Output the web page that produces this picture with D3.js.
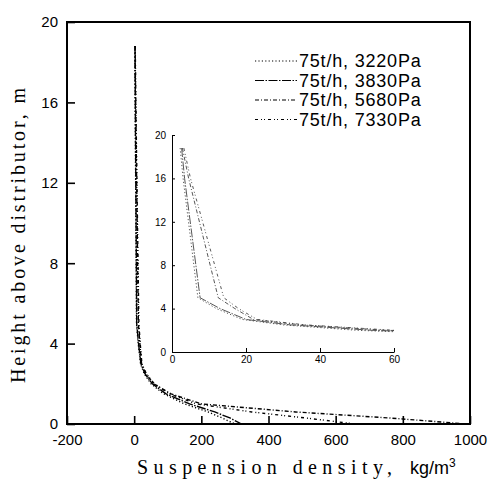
<!DOCTYPE html>
<html>
  <head>
    <meta charset="utf-8">
    <style>
      html, body {
        margin: 0px;
        padding: 0px;
        background: #fff;
      }
      svg {
        display: block;
      }
      .tick text {
        font-family: "Liberation Sans", Arial, sans-serif;
        fill: #000;
      }
    </style>
  </head>
  <body>
    <svg id="chart" width="488" height="479"></svg>
    <script src="https://cdnjs.cloudflare.com/ajax/libs/d3/7.8.5/d3.min.js" charset="utf-8"></script>
    <script>
      // heights above distributor (m) at which densities were read
      var heights = [18.8, 16, 5, 4, 3, 2.5, 2, 1.5, 1, 0.6, 0.3, 0];
      // suspension density (kg/m3) for each series at those heights
      var dens3220 = [2.2, 3.0, 7.0, 12, 19, 30, 50, 88, 150, 220, 262, 300];
      var dens3830 = [2.6, 3.4, 7.6, 13, 20, 32, 54, 95, 165, 240, 285, 320];
      var dens5680 = [2.8, 4.5, 12.5, 17, 22, 35, 58, 110, 200, 480, 760, 990];
      var dens7330 = [3.2, 5.0, 14.0, 18, 23, 36, 60, 105, 185, 350, 510, 660];
      var seriesNames = ['75t/h, 3220Pa', '75t/h, 3830Pa', '75t/h, 5680Pa', '75t/h, 7330Pa'];
      var dashes = ['1.2,2.2', '9,1.5,1.5,1.5', '4,2,1,2', '3,3,1,2,1,3'];

      var xTicks = [-200, 0, 200, 400, 600, 800, 1000];
      var yTicks = [0, 4, 8, 12, 16, 20];
      var insetXTicks = [0, 20, 40, 60];
      var insetYTicks = [0, 4, 8, 12, 16, 20];

      var series = [dens3220, dens3830, dens5680, dens7330].map(function(d, i) {
        return {
          name: seriesNames[i],
          dash: dashes[i],
          values: d.map(function(v, j) { return {x: v, y: heights[j]}; })
        };
      });

      var plain = function(d) { return String(d); };
      var svg = d3.select('#chart');

      // main plot
      var mLeft = 67, mRight = 470, mTop = 22, mBottom = 424;
      var x = d3.scaleLinear().domain([-200, 1000]).range([mLeft, mRight]);
      var y = d3.scaleLinear().domain([0, 20]).range([mBottom, mTop]);

      svg.append('clipPath').attr('id', 'mainClip')
        .append('rect').attr('x', mLeft).attr('y', mTop)
        .attr('width', mRight - mLeft).attr('height', mBottom - mTop);

      var line = d3.line().x(function(d) { return x(d.x); }).y(function(d) { return y(d.y); });

      svg.append('g').attr('clip-path', 'url(#mainClip)')
        .selectAll('path').data(series).enter().append('path')
        .attr('d', function(d) { return line(d.values); })
        .attr('fill', 'none')
        .attr('stroke', '#000')
        .attr('stroke-width', 1.4)
        .attr('stroke-dasharray', function(d) { return d.dash; });

      var xAxis = svg.append('g').attr('transform', 'translate(0,' + mBottom + ')')
        .call(d3.axisBottom(x).tickValues(xTicks).tickFormat(plain).tickSizeInner(-8).tickSizeOuter(0).tickPadding(10));
      var yAxis = svg.append('g').attr('transform', 'translate(' + mLeft + ',0)')
        .call(d3.axisLeft(y).tickValues(yTicks).tickFormat(plain).tickSizeInner(-8).tickSizeOuter(0).tickPadding(9));
      [xAxis, yAxis].forEach(function(a) {
        a.selectAll('.domain').remove();
        a.selectAll('.tick line').attr('stroke', '#000').attr('stroke-width', 1.6);
        a.selectAll('.tick text').attr('font-size', 15);
      });

      svg.append('rect')
        .attr('x', mLeft).attr('y', mTop)
        .attr('width', mRight - mLeft).attr('height', mBottom - mTop)
        .attr('fill', 'none').attr('stroke', '#000').attr('stroke-width', 2);

      // axis titles
      svg.append('text')
        .attr('transform', 'translate(25,383) rotate(-90)')
        .attr('font-family', '"Liberation Serif", serif')
        .attr('font-size', 20)
        .attr('textLength', 295)
        .attr('lengthAdjust', 'spacing')
        .text('Height above distributor, m');

      var xt = svg.append('text')
        .attr('x', 137).attr('y', 474)
        .attr('font-size', 20);
      xt.append('tspan').attr('font-family', '"Liberation Serif", serif')
        .attr('textLength', 255).attr('lengthAdjust', 'spacing')
        .text('Suspension density,');
      xt.append('tspan').attr('x', 410).attr('font-family', '"Liberation Sans", sans-serif')
        .attr('font-size', 18).text('kg/m');
      xt.append('tspan').attr('font-family', '"Liberation Sans", sans-serif')
        .attr('font-size', 12).attr('dy', -7).text('3');

      // legend
      var legend = svg.append('g').selectAll('g').data(series).enter().append('g')
        .attr('transform', function(d, i) { return 'translate(255,' + (61 + i * 19.5) + ')'; });
      legend.append('line')
        .attr('x1', 0).attr('x2', 42).attr('y1', 0).attr('y2', 0)
        .attr('stroke', '#000').attr('stroke-width', 1.1)
        .attr('stroke-dasharray', function(d) { return d.dash; });
      legend.append('text')
        .attr('x', 44).attr('y', 0).attr('dy', '0.36em')
        .attr('font-family', '"Liberation Sans", Arial, sans-serif')
        .attr('font-size', 18)
        .attr('letter-spacing', 0.8)
        .text(function(d) { return d.name; });

      // inset
      var iLeft = 172, iRight = 394, iTop = 135, iBottom = 352;
      var ix = d3.scaleLinear().domain([0, 60]).range([iLeft, iRight]);
      var iy = d3.scaleLinear().domain([0, 20]).range([iBottom, iTop]);

      svg.append('clipPath').attr('id', 'insetClip')
        .append('rect').attr('x', iLeft).attr('y', iTop)
        .attr('width', iRight - iLeft).attr('height', iBottom - iTop);

      var iline = d3.line().x(function(d) { return ix(d.x); }).y(function(d) { return iy(d.y); });

      svg.append('g').attr('clip-path', 'url(#insetClip)')
        .selectAll('path').data(series).enter().append('path')
        .attr('d', function(d) { return iline(d.values); })
        .attr('fill', 'none')
        .attr('stroke', '#444')
        .attr('stroke-width', 0.9)
        .attr('stroke-dasharray', function(d) { return d.dash; });

      var ixAxis = svg.append('g').attr('transform', 'translate(0,' + iBottom + ')')
        .call(d3.axisBottom(ix).tickValues(insetXTicks).tickFormat(plain).tickSizeInner(-4).tickSizeOuter(0).tickPadding(4));
      var iyAxis = svg.append('g').attr('transform', 'translate(' + iLeft + ',0)')
        .call(d3.axisLeft(iy).tickValues(insetYTicks).tickFormat(plain).tickSizeInner(-3).tickSizeOuter(0).tickPadding(6));
      [ixAxis, iyAxis].forEach(function(a) {
        a.select('.domain').attr('stroke', '#000').attr('stroke-width', 1);
        a.selectAll('.tick line').attr('stroke', '#000').attr('stroke-width', 1);
        a.selectAll('.tick text').attr('font-size', 10);
      });
    </script>
  </body>
</html>
